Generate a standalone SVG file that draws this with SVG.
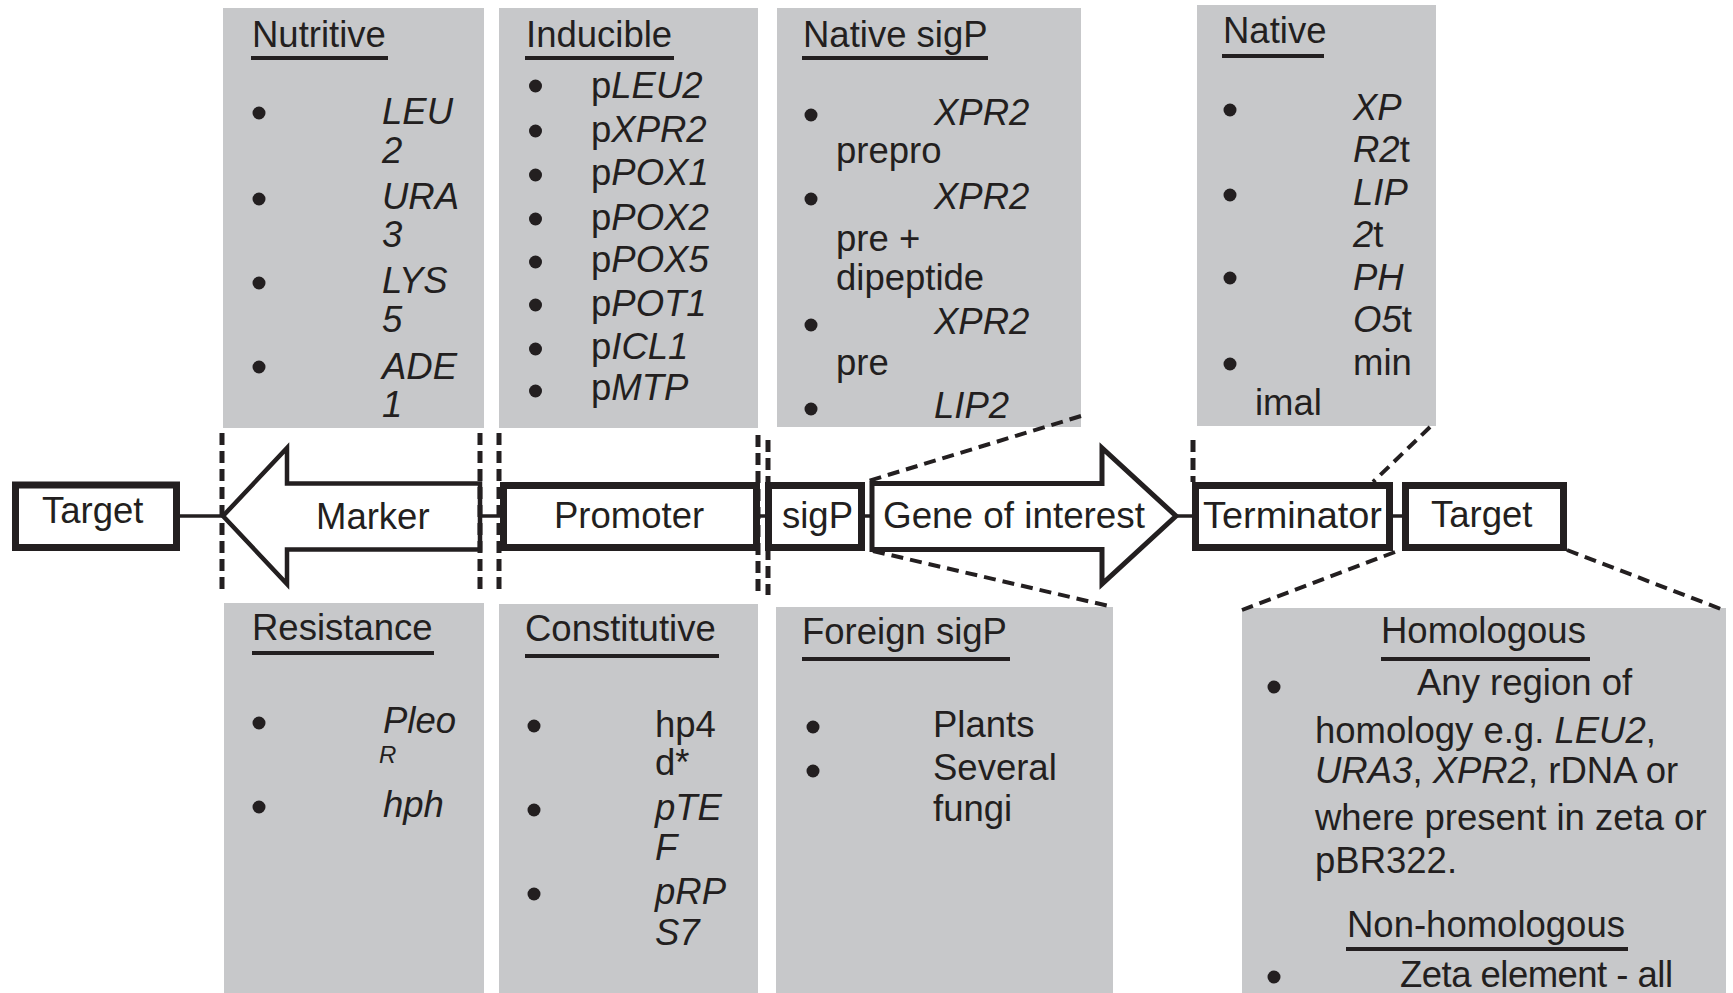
<svg xmlns="http://www.w3.org/2000/svg" width="1733" height="993" viewBox="0 0 1733 993">
  <style>
    text { font-family: "Liberation Sans", Arial, sans-serif; font-size: 36.5px; fill: #231f20; }
    .it { font-style: italic; }
    .sub { font-size: 24px; font-style: italic; }
    .panel { fill: #c7c8ca; }
    .rule { stroke: #231f20; stroke-width: 4; }
    .dot { fill: #231f20; }
    .part { fill: #ffffff; stroke: #231f20; stroke-width: 7; }
    .arrow { fill: #ffffff; stroke: #231f20; stroke-linejoin: miter; }
    .link { stroke: #231f20; stroke-width: 3.5; fill: none; }
    .cut { stroke: #231f20; stroke-width: 5; stroke-dasharray: 12 6; fill: none; }
    .zoom { stroke: #231f20; stroke-width: 4; stroke-dasharray: 12 7; fill: none; }
  </style>

  <rect width="1733" height="993" fill="#ffffff"/>

  <!-- Option panels above the cassette -->
  <g id="nutritive">
    <rect class="panel" x="223" y="8" width="261" height="420"/>
    <text x="252" y="47">Nutritive</text>
    <line class="rule" x1="251" y1="58" x2="388" y2="58"/>
    <circle class="dot" cx="259" cy="113" r="6.5"/>
    <circle class="dot" cx="259" cy="199" r="6.5"/>
    <circle class="dot" cx="259" cy="283" r="6.5"/>
    <circle class="dot" cx="259" cy="367" r="6.5"/>
    <text class="it" x="382" y="124">LEU</text>
    <text class="it" x="382" y="163">2</text>
    <text class="it" x="382" y="209">URA</text>
    <text class="it" x="382" y="247">3</text>
    <text class="it" x="382" y="293">LYS</text>
    <text class="it" x="382" y="332">5</text>
    <text class="it" x="382" y="379">ADE</text>
    <text class="it" x="382" y="417">1</text>
  </g>

  <g id="inducible">
    <rect class="panel" x="499" y="8" width="259" height="420"/>
    <text x="526" y="47">Inducible</text>
    <line class="rule" x1="525" y1="58" x2="674" y2="58"/>
    <circle class="dot" cx="535.5" cy="86" r="6.5"/>
    <circle class="dot" cx="535.5" cy="131" r="6.5"/>
    <circle class="dot" cx="535.5" cy="175" r="6.5"/>
    <circle class="dot" cx="535.5" cy="219" r="6.5"/>
    <circle class="dot" cx="535.5" cy="262" r="6.5"/>
    <circle class="dot" cx="535.5" cy="305" r="6.5"/>
    <circle class="dot" cx="535.5" cy="349" r="6.5"/>
    <circle class="dot" cx="535.5" cy="391" r="6.5"/>
    <text x="591" y="98">p<tspan class="it">LEU2</tspan></text>
    <text x="591" y="142">p<tspan class="it">XPR2</tspan></text>
    <text x="591" y="185">p<tspan class="it">POX1</tspan></text>
    <text x="591" y="230">p<tspan class="it">POX2</tspan></text>
    <text x="591" y="272">p<tspan class="it">POX5</tspan></text>
    <text x="591" y="316">p<tspan class="it">POT1</tspan></text>
    <text x="591" y="359">p<tspan class="it">ICL1</tspan></text>
    <text x="591" y="400">p<tspan class="it">MTP</tspan></text>
  </g>

  <g id="native-sigp">
    <rect class="panel" x="777" y="8" width="304" height="419"/>
    <text x="803" y="47">Native sigP</text>
    <line class="rule" x1="802" y1="58" x2="988" y2="58"/>
    <circle class="dot" cx="811" cy="115" r="6.5"/>
    <circle class="dot" cx="811" cy="199" r="6.5"/>
    <circle class="dot" cx="811" cy="325" r="6.5"/>
    <circle class="dot" cx="811" cy="409" r="6.5"/>
    <text class="it" x="934" y="125">XPR2</text>
    <text x="836" y="163">prepro</text>
    <text class="it" x="934" y="209">XPR2</text>
    <text x="836" y="251">pre +</text>
    <text x="836" y="290">dipeptide</text>
    <text class="it" x="934" y="334">XPR2</text>
    <text x="836" y="375">pre</text>
    <text class="it" x="934" y="418">LIP2</text>
  </g>

  <g id="native-terminator">
    <rect class="panel" x="1197" y="5" width="239" height="421"/>
    <text x="1223" y="43">Native</text>
    <line class="rule" x1="1222" y1="56" x2="1324" y2="56"/>
    <circle class="dot" cx="1230" cy="110" r="6.5"/>
    <circle class="dot" cx="1230" cy="195" r="6.5"/>
    <circle class="dot" cx="1230" cy="278" r="6.5"/>
    <circle class="dot" cx="1230" cy="364" r="6.5"/>
    <text class="it" x="1353" y="120">XP</text>
    <text x="1353" y="162"><tspan class="it">R2</tspan>t</text>
    <text class="it" x="1353" y="205">LIP</text>
    <text x="1353" y="247"><tspan class="it">2</tspan>t</text>
    <text class="it" x="1353" y="290">PH</text>
    <text x="1353" y="332"><tspan class="it">O5</tspan>t</text>
    <text x="1353" y="375">min</text>
    <text x="1255" y="415">imal</text>
  </g>

  <!-- Option panels below the cassette -->
  <g id="resistance">
    <rect class="panel" x="224" y="603" width="260" height="390"/>
    <text x="252" y="640">Resistance</text>
    <line class="rule" x1="252" y1="653" x2="434" y2="653"/>
    <circle class="dot" cx="259" cy="723" r="6.5"/>
    <circle class="dot" cx="259" cy="807" r="6.5"/>
    <text class="it" x="383" y="733">Pleo</text>
    <text class="sub" x="379" y="763">R</text>
    <text class="it" x="383" y="817">hph</text>
  </g>

  <g id="constitutive">
    <rect class="panel" x="499" y="604" width="259" height="389"/>
    <text x="525" y="641">Constitutive</text>
    <line class="rule" x1="525" y1="656" x2="719" y2="656"/>
    <circle class="dot" cx="534" cy="726" r="6.5"/>
    <circle class="dot" cx="534" cy="810" r="6.5"/>
    <circle class="dot" cx="534" cy="894" r="6.5"/>
    <text x="655" y="737">hp4</text>
    <text x="655" y="775">d*</text>
    <text class="it" x="655" y="820">pTE</text>
    <text class="it" x="655" y="860">F</text>
    <text class="it" x="655" y="904">pRP</text>
    <text class="it" x="655" y="945">S7</text>
  </g>

  <g id="foreign-sigp">
    <rect class="panel" x="776" y="607" width="337" height="386"/>
    <text x="802" y="644">Foreign sigP</text>
    <line class="rule" x1="802" y1="659" x2="1010" y2="659"/>
    <circle class="dot" cx="813" cy="727" r="6.5"/>
    <circle class="dot" cx="813" cy="771" r="6.5"/>
    <text x="933" y="737">Plants</text>
    <text x="933" y="780">Several</text>
    <text x="933" y="821">fungi</text>
  </g>

  <g id="target-homology">
    <rect class="panel" x="1242" y="608" width="484" height="385"/>
    <text x="1381" y="643">Homologous</text>
    <line class="rule" x1="1381" y1="659" x2="1590" y2="659"/>
    <circle class="dot" cx="1274" cy="687" r="6.5"/>
    <text x="1417" y="695">Any region of</text>
    <text x="1315" y="743">homology e.g. <tspan class="it">LEU2</tspan>,</text>
    <text x="1315" y="783"><tspan class="it">URA3</tspan>, <tspan class="it">XPR2</tspan>, rDNA or</text>
    <text x="1315" y="830">where present in zeta or</text>
    <text x="1315" y="873">pBR322.</text>
    <text x="1347" y="937">Non-homologous</text>
    <line class="rule" x1="1346" y1="949" x2="1628" y2="949"/>
    <circle class="dot" cx="1274" cy="977" r="6.5"/>
    <text x="1400" y="987" textLength="273" lengthAdjust="spacing">Zeta element - all</text>
  </g>

  <!-- Connectors: backbone links, cut-site marks and zoom guides -->
  <g id="connectors">
    <line class="link" x1="180" y1="516" x2="223" y2="516"/>
    <line class="link" x1="480" y1="516" x2="500" y2="516"/>
    <line class="link" x1="760" y1="516" x2="765" y2="516"/>
    <line class="link" x1="865" y1="516" x2="872" y2="516"/>
    <line class="link" x1="1176" y1="516" x2="1192" y2="516"/>
    <line class="link" x1="1393" y1="516" x2="1402" y2="516"/>

    <line class="zoom" x1="1081" y1="416" x2="865" y2="482"/>
    <line class="zoom" x1="873" y1="551" x2="1113" y2="607"/>
    <line class="zoom" x1="1430" y1="427" x2="1373" y2="482"/>
    <line class="zoom" x1="1395" y1="552" x2="1242" y2="610"/>
    <line class="zoom" x1="1567" y1="550" x2="1726" y2="611"/>
  </g>

  <!-- Cassette parts -->
  <g id="target-left">
    <rect class="part" x="15.5" y="485" width="161" height="62.5"/>
    <text x="42" y="523">Target</text>
  </g>

  <g id="marker">
    <polygon class="arrow" stroke-width="4.5" points="223,516 287,448 287,483.5 480,483.5 480,549.5 287,549.5 287,584"/>
    <text x="316" y="529">Marker</text>
  </g>

  <g id="promoter">
    <rect class="part" x="503.5" y="485.5" width="253" height="62"/>
    <text x="554" y="528">Promoter</text>
  </g>

  <g id="sigp">
    <rect class="part" x="768.5" y="485.5" width="93" height="62"/>
    <text x="782" y="528">sigP</text>
  </g>

  <g id="gene">
    <polygon class="arrow" stroke-width="5" points="872,483.5 1102,483.5 1102,448 1176,516 1102,584 1102,549.5 872,549.5"/>
    <text x="883" y="528" textLength="262" lengthAdjust="spacingAndGlyphs">Gene of interest</text>
  </g>

  <g id="terminator">
    <rect class="part" x="1195.5" y="485.5" width="194" height="62"/>
    <text x="1203" y="528" textLength="179" lengthAdjust="spacingAndGlyphs">Terminator</text>
  </g>

  <g id="target-right">
    <rect class="part" x="1405.5" y="485.5" width="158" height="62"/>
    <text x="1431" y="527">Target</text>
  </g>

  <!-- Cut-site marks drawn over the parts -->
  <g id="cut-marks">
    <line class="cut" x1="222" y1="433" x2="222" y2="595"/>
    <line class="cut" stroke-width="4" x1="480" y1="433" x2="480" y2="595"/>
    <line class="cut" x1="499" y1="433" x2="499" y2="595"/>
    <line class="cut" x1="758" y1="435" x2="758" y2="596"/>
    <line class="cut" x1="768" y1="440" x2="768" y2="595"/>
    <line class="cut" x1="1193" y1="440" x2="1193" y2="482"/>
  </g>
</svg>
